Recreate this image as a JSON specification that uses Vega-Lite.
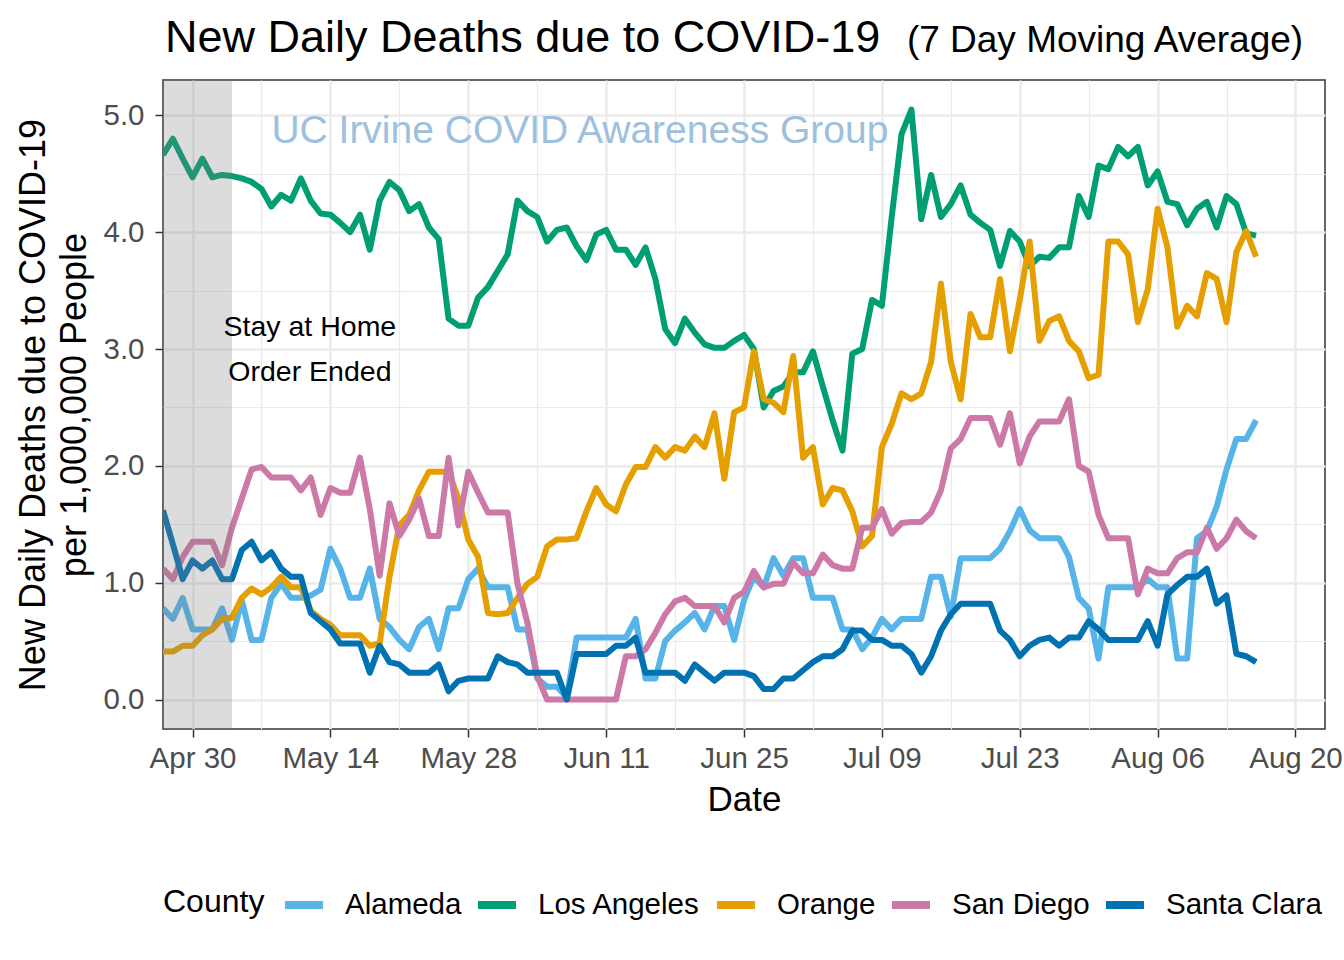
{
  "$schema": "https://vega.github.io/schema/vega-lite/v6.json",
  "autosize": {"type": "none"},
  "width": 1162,
  "height": 649,
  "padding": {"left": 163, "top": 80, "right": 19, "bottom": 231},
  "background": "white",
  "config": {
    "font": "Liberation Sans",
    "view": {"stroke": "#333333", "strokeWidth": 1.5},
    "axis": {"domain": false, "tickColor": "#333333", "tickWidth": 1.5, "tickSize": 8, "labelColor": "#4D4D4D", "labelFontSize": 29.5, "labelFont": "Liberation Sans", "titleFont": "Liberation Sans", "titleFontSize": 36, "titleFontWeight": "normal", "titleColor": "black", "gridColor": "#EBEBEB", "gridWidth": 2.5, "labelFlush": false, "labelOverlap": false}
  },
  "datasets": {
    "covid": [
      {"date": "2020-04-27T00:00", "Alameda": 0.78, "Los Angeles": 4.66, "Orange": 0.41, "San Diego": 1.12, "Santa Clara": 1.62},
      {"date": "2020-04-28T00:00", "Alameda": 0.69, "Los Angeles": 4.80, "Orange": 0.41, "San Diego": 1.03, "Santa Clara": 1.33},
      {"date": "2020-04-29T00:00", "Alameda": 0.87, "Los Angeles": 4.63, "Orange": 0.46, "San Diego": 1.22, "Santa Clara": 1.03},
      {"date": "2020-04-30T00:00", "Alameda": 0.60, "Los Angeles": 4.47, "Orange": 0.46, "San Diego": 1.35, "Santa Clara": 1.19},
      {"date": "2020-05-01T00:00", "Alameda": 0.60, "Los Angeles": 4.63, "Orange": 0.55, "San Diego": 1.35, "Santa Clara": 1.12},
      {"date": "2020-05-02T00:00", "Alameda": 0.60, "Los Angeles": 4.47, "Orange": 0.60, "San Diego": 1.35, "Santa Clara": 1.19},
      {"date": "2020-05-03T00:00", "Alameda": 0.78, "Los Angeles": 4.49, "Orange": 0.69, "San Diego": 1.15, "Santa Clara": 1.03},
      {"date": "2020-05-04T00:00", "Alameda": 0.51, "Los Angeles": 4.48, "Orange": 0.70, "San Diego": 1.47, "Santa Clara": 1.03},
      {"date": "2020-05-05T00:00", "Alameda": 0.85, "Los Angeles": 4.46, "Orange": 0.87, "San Diego": 1.72, "Santa Clara": 1.28},
      {"date": "2020-05-06T00:00", "Alameda": 0.51, "Los Angeles": 4.43, "Orange": 0.95, "San Diego": 1.97, "Santa Clara": 1.35},
      {"date": "2020-05-07T00:00", "Alameda": 0.51, "Los Angeles": 4.37, "Orange": 0.90, "San Diego": 1.99, "Santa Clara": 1.19},
      {"date": "2020-05-08T00:00", "Alameda": 0.87, "Los Angeles": 4.22, "Orange": 0.96, "San Diego": 1.90, "Santa Clara": 1.26},
      {"date": "2020-05-09T00:00", "Alameda": 0.99, "Los Angeles": 4.32, "Orange": 1.05, "San Diego": 1.90, "Santa Clara": 1.12},
      {"date": "2020-05-10T00:00", "Alameda": 0.87, "Los Angeles": 4.27, "Orange": 0.96, "San Diego": 1.90, "Santa Clara": 1.05},
      {"date": "2020-05-11T00:00", "Alameda": 0.87, "Los Angeles": 4.46, "Orange": 0.96, "San Diego": 1.79, "Santa Clara": 1.05},
      {"date": "2020-05-12T00:00", "Alameda": 0.89, "Los Angeles": 4.27, "Orange": 0.76, "San Diego": 1.90, "Santa Clara": 0.74},
      {"date": "2020-05-13T00:00", "Alameda": 0.94, "Los Angeles": 4.16, "Orange": 0.69, "San Diego": 1.58, "Santa Clara": 0.67},
      {"date": "2020-05-14T00:00", "Alameda": 1.29, "Los Angeles": 4.15, "Orange": 0.64, "San Diego": 1.81, "Santa Clara": 0.60},
      {"date": "2020-05-15T00:00", "Alameda": 1.12, "Los Angeles": 4.08, "Orange": 0.55, "San Diego": 1.77, "Santa Clara": 0.48},
      {"date": "2020-05-16T00:00", "Alameda": 0.87, "Los Angeles": 4.00, "Orange": 0.55, "San Diego": 1.77, "Santa Clara": 0.48},
      {"date": "2020-05-17T00:00", "Alameda": 0.87, "Los Angeles": 4.15, "Orange": 0.55, "San Diego": 2.07, "Santa Clara": 0.48},
      {"date": "2020-05-18T00:00", "Alameda": 1.12, "Los Angeles": 3.85, "Orange": 0.46, "San Diego": 1.63, "Santa Clara": 0.23},
      {"date": "2020-05-19T00:00", "Alameda": 0.69, "Los Angeles": 4.27, "Orange": 0.48, "San Diego": 1.06, "Santa Clara": 0.46},
      {"date": "2020-05-20T00:00", "Alameda": 0.62, "Los Angeles": 4.43, "Orange": 1.05, "San Diego": 1.68, "Santa Clara": 0.32},
      {"date": "2020-05-21T00:00", "Alameda": 0.51, "Los Angeles": 4.36, "Orange": 1.49, "San Diego": 1.40, "Santa Clara": 0.30},
      {"date": "2020-05-22T00:00", "Alameda": 0.43, "Los Angeles": 4.18, "Orange": 1.58, "San Diego": 1.54, "Santa Clara": 0.23},
      {"date": "2020-05-23T00:00", "Alameda": 0.62, "Los Angeles": 4.24, "Orange": 1.79, "San Diego": 1.72, "Santa Clara": 0.23},
      {"date": "2020-05-24T00:00", "Alameda": 0.69, "Los Angeles": 4.04, "Orange": 1.95, "San Diego": 1.40, "Santa Clara": 0.23},
      {"date": "2020-05-25T00:00", "Alameda": 0.43, "Los Angeles": 3.94, "Orange": 1.95, "San Diego": 1.40, "Santa Clara": 0.30},
      {"date": "2020-05-26T00:00", "Alameda": 0.78, "Los Angeles": 3.26, "Orange": 1.95, "San Diego": 2.07, "Santa Clara": 0.07},
      {"date": "2020-05-27T00:00", "Alameda": 0.78, "Los Angeles": 3.20, "Orange": 1.72, "San Diego": 1.49, "Santa Clara": 0.16},
      {"date": "2020-05-28T00:00", "Alameda": 1.03, "Los Angeles": 3.20, "Orange": 1.37, "San Diego": 1.95, "Santa Clara": 0.18},
      {"date": "2020-05-29T00:00", "Alameda": 1.12, "Los Angeles": 3.44, "Orange": 1.22, "San Diego": 1.77, "Santa Clara": 0.18},
      {"date": "2020-05-30T00:00", "Alameda": 0.96, "Los Angeles": 3.53, "Orange": 0.74, "San Diego": 1.60, "Santa Clara": 0.18},
      {"date": "2020-05-31T00:00", "Alameda": 0.96, "Los Angeles": 3.67, "Orange": 0.73, "San Diego": 1.60, "Santa Clara": 0.37},
      {"date": "2020-06-01T00:00", "Alameda": 0.96, "Los Angeles": 3.81, "Orange": 0.74, "San Diego": 1.60, "Santa Clara": 0.32},
      {"date": "2020-06-02T00:00", "Alameda": 0.60, "Los Angeles": 4.27, "Orange": 0.87, "San Diego": 0.99, "Santa Clara": 0.30},
      {"date": "2020-06-03T00:00", "Alameda": 0.60, "Los Angeles": 4.18, "Orange": 0.99, "San Diego": 0.66, "Santa Clara": 0.23},
      {"date": "2020-06-04T00:00", "Alameda": 0.18, "Los Angeles": 4.13, "Orange": 1.05, "San Diego": 0.20, "Santa Clara": 0.23},
      {"date": "2020-06-05T00:00", "Alameda": 0.11, "Los Angeles": 3.92, "Orange": 1.31, "San Diego": 0.00, "Santa Clara": 0.23},
      {"date": "2020-06-06T00:00", "Alameda": 0.11, "Los Angeles": 4.02, "Orange": 1.37, "San Diego": 0.00, "Santa Clara": 0.23},
      {"date": "2020-06-07T00:00", "Alameda": 0.02, "Los Angeles": 4.04, "Orange": 1.37, "San Diego": 0.00, "Santa Clara": 0.00},
      {"date": "2020-06-08T00:00", "Alameda": 0.53, "Los Angeles": 3.88, "Orange": 1.38, "San Diego": 0.00, "Santa Clara": 0.39},
      {"date": "2020-06-09T00:00", "Alameda": 0.53, "Los Angeles": 3.76, "Orange": 1.61, "San Diego": 0.00, "Santa Clara": 0.39},
      {"date": "2020-06-10T00:00", "Alameda": 0.53, "Los Angeles": 3.98, "Orange": 1.81, "San Diego": 0.00, "Santa Clara": 0.39},
      {"date": "2020-06-11T00:00", "Alameda": 0.53, "Los Angeles": 4.02, "Orange": 1.67, "San Diego": 0.00, "Santa Clara": 0.39},
      {"date": "2020-06-12T00:00", "Alameda": 0.53, "Los Angeles": 3.85, "Orange": 1.61, "San Diego": 0.00, "Santa Clara": 0.46},
      {"date": "2020-06-13T00:00", "Alameda": 0.53, "Los Angeles": 3.85, "Orange": 1.84, "San Diego": 0.37, "Santa Clara": 0.46},
      {"date": "2020-06-14T00:00", "Alameda": 0.69, "Los Angeles": 3.72, "Orange": 1.99, "San Diego": 0.37, "Santa Clara": 0.53},
      {"date": "2020-06-15T00:00", "Alameda": 0.18, "Los Angeles": 3.87, "Orange": 1.99, "San Diego": 0.43, "Santa Clara": 0.23},
      {"date": "2020-06-16T00:00", "Alameda": 0.18, "Los Angeles": 3.60, "Orange": 2.16, "San Diego": 0.57, "Santa Clara": 0.23},
      {"date": "2020-06-17T00:00", "Alameda": 0.50, "Los Angeles": 3.17, "Orange": 2.07, "San Diego": 0.73, "Santa Clara": 0.23},
      {"date": "2020-06-18T00:00", "Alameda": 0.59, "Los Angeles": 3.05, "Orange": 2.16, "San Diego": 0.84, "Santa Clara": 0.23},
      {"date": "2020-06-19T00:00", "Alameda": 0.66, "Los Angeles": 3.26, "Orange": 2.13, "San Diego": 0.87, "Santa Clara": 0.16},
      {"date": "2020-06-20T00:00", "Alameda": 0.74, "Los Angeles": 3.14, "Orange": 2.25, "San Diego": 0.80, "Santa Clara": 0.30},
      {"date": "2020-06-21T00:00", "Alameda": 0.60, "Los Angeles": 3.04, "Orange": 2.16, "San Diego": 0.80, "Santa Clara": 0.23},
      {"date": "2020-06-22T00:00", "Alameda": 0.80, "Los Angeles": 3.01, "Orange": 2.45, "San Diego": 0.80, "Santa Clara": 0.16},
      {"date": "2020-06-23T00:00", "Alameda": 0.80, "Los Angeles": 3.01, "Orange": 1.89, "San Diego": 0.66, "Santa Clara": 0.23},
      {"date": "2020-06-24T00:00", "Alameda": 0.51, "Los Angeles": 3.07, "Orange": 2.46, "San Diego": 0.87, "Santa Clara": 0.23},
      {"date": "2020-06-25T00:00", "Alameda": 0.85, "Los Angeles": 3.12, "Orange": 2.50, "San Diego": 0.92, "Santa Clara": 0.23},
      {"date": "2020-06-26T00:00", "Alameda": 1.05, "Los Angeles": 3.00, "Orange": 2.98, "San Diego": 1.10, "Santa Clara": 0.20},
      {"date": "2020-06-27T00:00", "Alameda": 0.96, "Los Angeles": 2.50, "Orange": 2.57, "San Diego": 0.96, "Santa Clara": 0.09},
      {"date": "2020-06-28T00:00", "Alameda": 1.21, "Los Angeles": 2.64, "Orange": 2.54, "San Diego": 0.99, "Santa Clara": 0.09},
      {"date": "2020-06-29T00:00", "Alameda": 1.06, "Los Angeles": 2.68, "Orange": 2.46, "San Diego": 0.99, "Santa Clara": 0.18},
      {"date": "2020-06-30T00:00", "Alameda": 1.21, "Los Angeles": 2.80, "Orange": 2.94, "San Diego": 1.17, "Santa Clara": 0.18},
      {"date": "2020-07-01T00:00", "Alameda": 1.21, "Los Angeles": 2.80, "Orange": 2.07, "San Diego": 1.08, "Santa Clara": 0.25},
      {"date": "2020-07-02T00:00", "Alameda": 0.87, "Los Angeles": 2.98, "Orange": 2.16, "San Diego": 1.08, "Santa Clara": 0.32},
      {"date": "2020-07-03T00:00", "Alameda": 0.87, "Los Angeles": 2.68, "Orange": 1.67, "San Diego": 1.24, "Santa Clara": 0.37},
      {"date": "2020-07-04T00:00", "Alameda": 0.87, "Los Angeles": 2.39, "Orange": 1.81, "San Diego": 1.15, "Santa Clara": 0.37},
      {"date": "2020-07-05T00:00", "Alameda": 0.60, "Los Angeles": 2.13, "Orange": 1.79, "San Diego": 1.12, "Santa Clara": 0.43},
      {"date": "2020-07-06T00:00", "Alameda": 0.60, "Los Angeles": 2.96, "Orange": 1.61, "San Diego": 1.12, "Santa Clara": 0.59},
      {"date": "2020-07-07T00:00", "Alameda": 0.43, "Los Angeles": 3.00, "Orange": 1.31, "San Diego": 1.47, "Santa Clara": 0.59},
      {"date": "2020-07-08T00:00", "Alameda": 0.53, "Los Angeles": 3.42, "Orange": 1.40, "San Diego": 1.47, "Santa Clara": 0.51},
      {"date": "2020-07-09T00:00", "Alameda": 0.69, "Los Angeles": 3.37, "Orange": 2.16, "San Diego": 1.63, "Santa Clara": 0.51},
      {"date": "2020-07-10T00:00", "Alameda": 0.60, "Los Angeles": 4.13, "Orange": 2.36, "San Diego": 1.42, "Santa Clara": 0.46},
      {"date": "2020-07-11T00:00", "Alameda": 0.69, "Los Angeles": 4.84, "Orange": 2.62, "San Diego": 1.51, "Santa Clara": 0.46},
      {"date": "2020-07-12T00:00", "Alameda": 0.69, "Los Angeles": 5.05, "Orange": 2.57, "San Diego": 1.52, "Santa Clara": 0.39},
      {"date": "2020-07-13T00:00", "Alameda": 0.69, "Los Angeles": 4.11, "Orange": 2.62, "San Diego": 1.52, "Santa Clara": 0.23},
      {"date": "2020-07-14T00:00", "Alameda": 1.05, "Los Angeles": 4.49, "Orange": 2.89, "San Diego": 1.60, "Santa Clara": 0.37},
      {"date": "2020-07-15T00:00", "Alameda": 1.05, "Los Angeles": 4.13, "Orange": 3.56, "San Diego": 1.79, "Santa Clara": 0.59},
      {"date": "2020-07-16T00:00", "Alameda": 0.71, "Los Angeles": 4.24, "Orange": 2.89, "San Diego": 2.15, "Santa Clara": 0.73},
      {"date": "2020-07-17T00:00", "Alameda": 1.21, "Los Angeles": 4.40, "Orange": 2.57, "San Diego": 2.23, "Santa Clara": 0.82},
      {"date": "2020-07-18T00:00", "Alameda": 1.21, "Los Angeles": 4.15, "Orange": 3.30, "San Diego": 2.41, "Santa Clara": 0.82},
      {"date": "2020-07-19T00:00", "Alameda": 1.21, "Los Angeles": 4.08, "Orange": 3.10, "San Diego": 2.41, "Santa Clara": 0.82},
      {"date": "2020-07-20T00:00", "Alameda": 1.21, "Los Angeles": 4.02, "Orange": 3.10, "San Diego": 2.41, "Santa Clara": 0.82},
      {"date": "2020-07-21T00:00", "Alameda": 1.29, "Los Angeles": 3.71, "Orange": 3.60, "San Diego": 2.18, "Santa Clara": 0.59},
      {"date": "2020-07-22T00:00", "Alameda": 1.44, "Los Angeles": 4.01, "Orange": 2.98, "San Diego": 2.45, "Santa Clara": 0.51},
      {"date": "2020-07-23T00:00", "Alameda": 1.63, "Los Angeles": 3.92, "Orange": 3.42, "San Diego": 2.02, "Santa Clara": 0.37},
      {"date": "2020-07-24T00:00", "Alameda": 1.45, "Los Angeles": 3.71, "Orange": 3.92, "San Diego": 2.25, "Santa Clara": 0.46},
      {"date": "2020-07-25T00:00", "Alameda": 1.38, "Los Angeles": 3.79, "Orange": 3.07, "San Diego": 2.38, "Santa Clara": 0.51},
      {"date": "2020-07-26T00:00", "Alameda": 1.38, "Los Angeles": 3.78, "Orange": 3.24, "San Diego": 2.38, "Santa Clara": 0.53},
      {"date": "2020-07-27T00:00", "Alameda": 1.38, "Los Angeles": 3.87, "Orange": 3.28, "San Diego": 2.38, "Santa Clara": 0.46},
      {"date": "2020-07-28T00:00", "Alameda": 1.22, "Los Angeles": 3.87, "Orange": 3.07, "San Diego": 2.57, "Santa Clara": 0.53},
      {"date": "2020-07-29T00:00", "Alameda": 0.87, "Los Angeles": 4.31, "Orange": 2.98, "San Diego": 2.00, "Santa Clara": 0.53},
      {"date": "2020-07-30T00:00", "Alameda": 0.78, "Los Angeles": 4.13, "Orange": 2.75, "San Diego": 1.95, "Santa Clara": 0.67},
      {"date": "2020-07-31T00:00", "Alameda": 0.35, "Los Angeles": 4.57, "Orange": 2.78, "San Diego": 1.58, "Santa Clara": 0.60},
      {"date": "2020-08-01T00:00", "Alameda": 0.96, "Los Angeles": 4.54, "Orange": 3.92, "San Diego": 1.38, "Santa Clara": 0.51},
      {"date": "2020-08-02T00:00", "Alameda": 0.96, "Los Angeles": 4.73, "Orange": 3.92, "San Diego": 1.38, "Santa Clara": 0.51},
      {"date": "2020-08-03T00:00", "Alameda": 0.96, "Los Angeles": 4.65, "Orange": 3.81, "San Diego": 1.38, "Santa Clara": 0.51},
      {"date": "2020-08-04T00:00", "Alameda": 0.96, "Los Angeles": 4.73, "Orange": 3.23, "San Diego": 0.90, "Santa Clara": 0.51},
      {"date": "2020-08-05T00:00", "Alameda": 1.03, "Los Angeles": 4.40, "Orange": 3.51, "San Diego": 1.12, "Santa Clara": 0.67},
      {"date": "2020-08-06T00:00", "Alameda": 0.96, "Los Angeles": 4.52, "Orange": 4.20, "San Diego": 1.08, "Santa Clara": 0.46},
      {"date": "2020-08-07T00:00", "Alameda": 0.96, "Los Angeles": 4.26, "Orange": 3.87, "San Diego": 1.08, "Santa Clara": 0.90},
      {"date": "2020-08-08T00:00", "Alameda": 0.35, "Los Angeles": 4.24, "Orange": 3.19, "San Diego": 1.21, "Santa Clara": 0.98},
      {"date": "2020-08-09T00:00", "Alameda": 0.35, "Los Angeles": 4.06, "Orange": 3.37, "San Diego": 1.26, "Santa Clara": 1.05},
      {"date": "2020-08-10T00:00", "Alameda": 1.38, "Los Angeles": 4.20, "Orange": 3.28, "San Diego": 1.26, "Santa Clara": 1.05},
      {"date": "2020-08-11T00:00", "Alameda": 1.44, "Los Angeles": 4.26, "Orange": 3.65, "San Diego": 1.47, "Santa Clara": 1.12},
      {"date": "2020-08-12T00:00", "Alameda": 1.65, "Los Angeles": 4.04, "Orange": 3.60, "San Diego": 1.29, "Santa Clara": 0.82},
      {"date": "2020-08-13T00:00", "Alameda": 1.97, "Los Angeles": 4.31, "Orange": 3.23, "San Diego": 1.38, "Santa Clara": 0.89},
      {"date": "2020-08-14T00:00", "Alameda": 2.23, "Los Angeles": 4.24, "Orange": 3.83, "San Diego": 1.54, "Santa Clara": 0.39},
      {"date": "2020-08-15T00:00", "Alameda": 2.23, "Los Angeles": 3.99, "Orange": 4.01, "San Diego": 1.44, "Santa Clara": 0.37},
      {"date": "2020-08-16T00:00", "Alameda": 2.39, "Los Angeles": 3.97, "Orange": 3.79, "San Diego": 1.38, "Santa Clara": 0.32}
    ]
  },
  "resolve": {"axis": {"x": "independent", "y": "independent"}},
  "layer": [
    {
      "data": {"name": "covid"},
      "transform": [{"fold": ["Alameda", "Los Angeles", "Orange", "San Diego", "Santa Clara"], "as": ["county", "deaths"]}],
      "mark": {"type": "line", "strokeWidth": 6, "strokeJoin": "round", "strokeCap": "butt", "clip": true},
      "encoding": {
        "x": {"field": "date", "type": "temporal",
          "scale": {"domain": [{"year": 2020, "month": 4, "date": 27}, {"year": 2020, "month": 8, "date": 23}], "nice": false},
          "axis": {"orient": "bottom", "title": "Date", "titleFontSize": 35, "format": "%b %d", "labelPadding": 7, "titlePadding": 10,
            "values": [{"year": 2020, "month": 4, "date": 30}, {"year": 2020, "month": 5, "date": 14}, {"year": 2020, "month": 5, "date": 28}, {"year": 2020, "month": 6, "date": 11}, {"year": 2020, "month": 6, "date": 25}, {"year": 2020, "month": 7, "date": 9}, {"year": 2020, "month": 7, "date": 23}, {"year": 2020, "month": 8, "date": 6}, {"year": 2020, "month": 8, "date": 20}]}},
        "y": {"field": "deaths", "type": "quantitative",
          "scale": {"domain": [-0.2525, 5.3025], "nice": false, "zero": false},
          "axis": {"orient": "left", "values": [0, 1, 2, 3, 4, 5], "format": ".1f", "labelPadding": 11, "titlePadding": 9, "titleLineHeight": 41,
            "title": ["New Daily Deaths due to COVID-19", "per 1,000,000 People"]}},
        "color": {"field": "county", "type": "nominal",
          "scale": {"domain": ["Alameda", "Los Angeles", "Orange", "San Diego", "Santa Clara"], "range": ["#56B4E9", "#009E73", "#E69F00", "#CC79A7", "#0072B2"]},
          "legend": {"title": "County", "orient": "bottom", "direction": "horizontal", "titleOrient": "left", "titleFontSize": 32, "titleFontWeight": "normal", "titleColor": "black", "titleFont": "Liberation Sans", "labelFont": "Liberation Sans", "labelFontSize": 29.5, "labelColor": "black", "labelLimit": 400, "symbolType": "stroke", "symbolStrokeWidth": 8, "symbolSize": 1444, "labelOffset": 18, "columnPadding": 0, "titlePadding": 16, "offset": 64}}
      }
    },
    {
      "data": {"values": [{}]},
      "mark": {"type": "rect", "fill": "#7F7F7F", "opacity": 0.27},
      "encoding": {
        "x": {"datum": {"year": 2020, "month": 4, "date": 27}, "type": "temporal", "axis": null},
        "x2": {"datum": {"year": 2020, "month": 5, "date": 4}}
      }
    },
    {
      "data": {"values": [{}]},
      "mark": {"type": "text", "text": "UC Irvine COVID Awareness Group", "font": "Liberation Sans", "fontSize": 39, "color": "#9CC0DD", "align": "center", "baseline": "alphabetic"},
      "encoding": {
        "x": {"datum": {"year": 2020, "month": 6, "date": 8, "hours": 8}, "type": "temporal",
          "axis": {"orient": "top", "labels": false, "ticks": false, "domain": false, "grid": true, "gridWidth": 1.2, "title": null,
            "values": [{"year": 2020, "month": 5, "date": 7}, {"year": 2020, "month": 5, "date": 21}, {"year": 2020, "month": 6, "date": 4}, {"year": 2020, "month": 6, "date": 18}, {"year": 2020, "month": 7, "date": 2}, {"year": 2020, "month": 7, "date": 16}, {"year": 2020, "month": 7, "date": 30}, {"year": 2020, "month": 8, "date": 13}]}},
        "y": {"datum": 4.76, "type": "quantitative",
          "axis": {"orient": "right", "labels": false, "ticks": false, "domain": false, "grid": true, "gridWidth": 1.2, "title": null, "values": [0.5, 1.5, 2.5, 3.5, 4.5]}}
      }
    },
    {
      "data": {"values": [{}]},
      "mark": {"type": "text", "text": ["Stay at Home", "Order Ended"], "font": "Liberation Sans", "fontSize": 28.5, "color": "black", "align": "center", "baseline": "alphabetic", "lineHeight": 45},
      "encoding": {
        "x": {"datum": {"year": 2020, "month": 5, "date": 11, "hours": 22}, "type": "temporal", "axis": null},
        "y": {"datum": 3.108, "type": "quantitative", "axis": null}
      }
    },
    {
      "data": {"values": [{}]},
      "mark": {"type": "text", "text": "New Daily Deaths due to COVID-19", "font": "Liberation Sans", "fontSize": 45, "color": "black", "align": "left", "baseline": "alphabetic"},
      "encoding": {
        "x": {"datum": {"year": 2020, "month": 4, "date": 27, "hours": 5}, "type": "temporal", "axis": null},
        "y": {"datum": 5.539, "type": "quantitative", "axis": null}
      }
    },
    {
      "data": {"values": [{}]},
      "mark": {"type": "text", "text": "(7 Day Moving Average)", "font": "Liberation Sans", "fontSize": 37, "color": "black", "align": "left", "baseline": "alphabetic"},
      "encoding": {
        "x": {"datum": {"year": 2020, "month": 7, "date": 11, "hours": 13}, "type": "temporal", "axis": null},
        "y": {"datum": 5.539, "type": "quantitative", "axis": null}
      }
    }
  ]
}
